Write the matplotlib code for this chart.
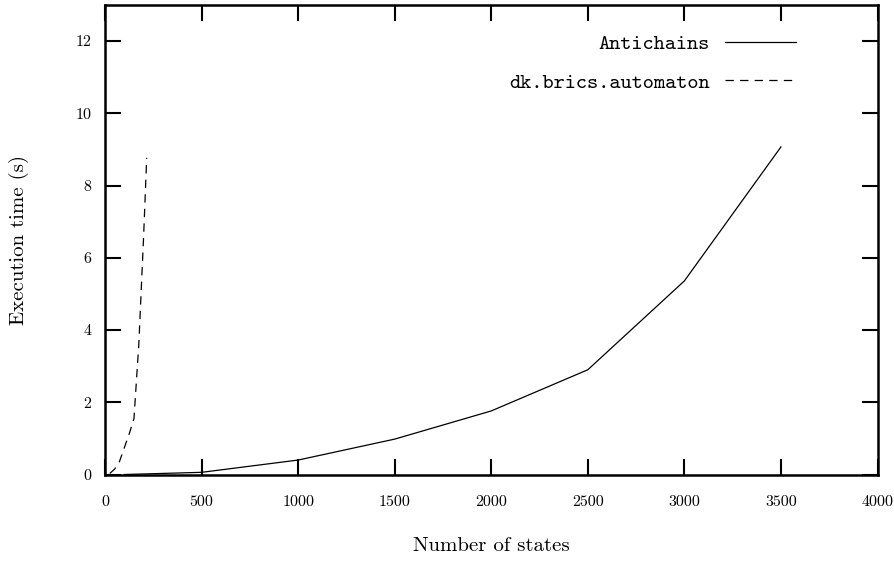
import matplotlib
matplotlib.use("Agg")
import matplotlib.pyplot as plt

# Data
antichains_states = [100, 500, 1000, 1500, 2000, 2500, 3000, 3500]
antichains_time = [0.0, 0.06, 0.40, 0.98, 1.76, 2.90, 5.36, 9.07]

brics_states = [25, 50, 75, 100, 125, 150, 175, 200, 216]
brics_time = [0.03, 0.15, 0.36, 0.74, 1.12, 1.55, 3.6, 6.6, 8.77]

x_ticks = [0, 500, 1000, 1500, 2000, 2500, 3000, 3500, 4000]
y_ticks = [0, 2, 4, 6, 8, 10, 12]

series_labels = ["Antichains", "dk.brics.automaton"]
x_label = "Number of states"
y_label = "Execution time (s)"

plt.rcParams['lines.scale_dashes'] = False
plt.rcParams['axes.formatter.use_mathtext'] = True

fig = plt.figure(figsize=(8.94, 5.61), dpi=100)
ax = fig.add_axes([105/894, 1 - 474.5/561, 772.5/894, 469.5/561])

ax.plot(antichains_states, antichains_time, color='black', lw=0.9,
        label=series_labels[0])
ax.plot(brics_states, brics_time, color='black', lw=0.9,
        linestyle=(0, (6, 4.5)), label=series_labels[1])

ax.set_xlim(0, 4000)
ax.set_ylim(0, 13)
ax.set_xticks(x_ticks)
ax.set_xticklabels([str(t) for t in x_ticks], fontfamily='cmr10', fontsize=11.5)
ax.set_yticks(y_ticks)
ax.set_yticklabels([str(t) for t in y_ticks], fontfamily='cmr10', fontsize=11.5)
ax.tick_params(direction='in', length=11.3, width=1.5, top=True, right=True,
               bottom=True, left=True)
ax.tick_params(axis='x', pad=15)
ax.tick_params(axis='y', pad=10)
ax.minorticks_off()
for s in ax.spines.values():
    s.set_linewidth(1.8)

ax.set_xlabel(x_label, fontfamily='cmr10', fontsize=15, labelpad=20)
ax.set_ylabel(y_label, fontfamily='cmr10', fontsize=15, labelpad=33)

leg = ax.legend(loc='upper right', bbox_to_anchor=(0.905, 0.956),
                markerfirst=False, frameon=False,
                prop={'family': 'cmtt10', 'size': 15.3},
                handlelength=3.3, handletextpad=0.75, labelspacing=0.88,
                borderaxespad=0)

fig.savefig("out.png", dpi=100)
